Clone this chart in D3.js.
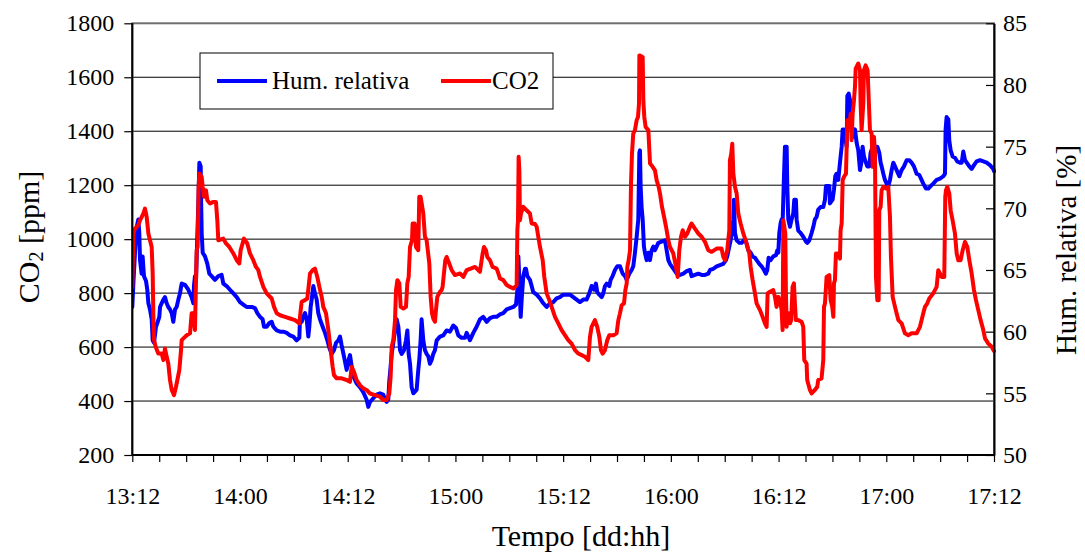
<!DOCTYPE html>
<html><head><meta charset="utf-8">
<script src="https://cdn.jsdelivr.net/npm/d3@7"></script>
<style>
body{margin:0;background:#fff;overflow:hidden}
svg text{font-family:"Liberation Serif","Times New Roman",serif;fill:#000}
</style>
</head><body>
<svg id="chart" width="1085" height="554"></svg>
<script>
// ---------- data ----------
const xTickLabels = ["13:12","14:00","14:12","15:00","15:12","16:00","16:12","17:00","17:12"];
const co2Ticks = [200,400,600,800,1000,1200,1400,1600,1800];
const rhTicks = [50,55,60,65,70,75,80,85];
const seriesNames = ["Hum. relativa","CO2"];

// time in hours since 13:12
const co2Hours = [0,0.12,0.30,0.67,0.86,1.23,1.41,1.60,1.79,2.16,2.27,2.34,2.42,2.60,2.90,3.27,3.46,3.64,3.83,4.01,4.20,4.39,4.65,4.87,5.02,5.24,5.43,5.50,5.87,6.06,6.43,6.61,6.80,6.98,7.10,7.17,7.28,7.39,7.47,7.73,7.84,7.99,8.21,8.36,8.66,9.03,9.32,9.47,9.58,10.14,10.44,10.81,11.26,11.63,11.92,12.07,12.44,12.81,13.11,13.48,13.78,14.04,14.23,14.60,14.97,15.53,15.79,16.09,16.46,17.01,17.57,18.12,18.61,18.76,18.87,19.24,19.50,19.80,20.09,20.35,20.61,20.84,21.10,21.28,21.58,21.84,22.10,22.32,22.47,22.77,23.32,23.88,24.25,24.44,24.70,24.99,25.36,25.73,26.10,26.48,27.03,27.59,27.96,28.34,28.63,28.78,28.90,29.08,29.27,29.38,29.53,29.75,29.90,30.20,30.49,30.64,30.79,30.94,31.16,31.23,31.46,31.60,31.86,31.97,32.12,32.27,32.42,32.60,32.79,33.09,33.24,33.39,33.53,33.72,33.83,33.98,34.28,34.46,34.57,34.72,34.87,35.02,35.31,35.58,35.95,36.51,36.88,37.25,37.70,38.18,38.73,39.03,39.18,39.40,39.55,39.85,40.14,40.59,40.78,40.97,41.33,41.71,42.08,42.45,42.82,42.90,42.97,43.04,43.12,43.19,43.30,43.56,43.93,44.30,44.49,44.86,45.05,45.23,45.42,45.72,45.90,46.16,46.46,46.72,47.09,47.46,47.83,48.20,48.57,48.94,49.32,49.69,50.06,50.43,50.80,50.99,51.17,51.54,51.80,52.03,52.21,52.40,52.66,52.92,53.14,53.59,53.96,54.15,54.33,54.52,54.78,54.93,55.08,55.15,55.30,55.45,55.56,55.67,55.81,56.00,56.19,56.34,56.45,56.49,56.86,56.93,57.04,57.19,57.49,57.68,57.97,58.23,58.42,58.64,58.79,59.01,59.24,59.46,59.72,59.90,60.27,60.57,60.76,60.94,61.13,61.32,61.57,61.83,62.13,62.31,62.68,63.06,63.43,63.80,64.17,64.54,65.10,65.65,65.84,66.02,66.28,66.51,66.58,66.73,66.84,66.96,67.14,67.33,67.51,67.77,68.07,68.44,68.74,68.89,69.11,69.37,69.55,69.93,70.22,70.48,70.67,70.78,71.04,71.41,71.60,71.78,71.97,72.15,72.34,72.45,72.53,72.64,72.75,72.82,72.90,73.01,73.16,73.27,73.41,73.56,73.71,73.82,73.93,74.19,74.56,74.75,74.86,75.12,75.19,75.49,75.68,76.05,76.31,76.42,76.79,76.98,77.06,77.17,77.35,77.65,77.80,77.98,78.10,78.17,78.28,78.39,78.65,78.84,78.91,79.03,79.14,79.29,79.51,79.66,79.88,80.03,80.14,80.25,80.40,80.51,80.59,80.88,81.07,81.14,81.25,81.44,81.51,81.70,81.92,81.99,82.18,82.37,82.48,82.63,82.74,82.85,83.00,83.15,83.22,83.37,83.48,83.67,83.97,84.22,84.41,84.52,84.71,84.97,85.15,85.34,85.71,86.08,86.45,86.82,87.38,87.75,87.93,88.12,88.31,88.57,88.79,89.23,89.61,89.79,89.98,90.16,90.46,90.57,90.65,90.80,91.02,91.17,91.39,91.65,91.84,92.02,92.28,92.51,92.77,93.03,93.25,93.51,93.77,93.99,94.25,94.51,94.81,95.00,95.37,95.74,96.00];
const co2Ppm = [823,1021,1039,1052,1070,1095,1113,1083,1021,971,873,725,626,601,576,576,552,595,564,539,478,441,422,453,478,515,589,626,638,644,651,725,725,663,848,959,971,1194,1243,1231,1194,1157,1181,1144,1132,1138,1138,1070,996,1002,984,971,947,922,910,959,1002,984,947,922,897,885,860,823,799,780,749,725,718,712,706,700,688,737,768,774,780,873,885,891,860,823,786,749,725,663,589,527,496,484,484,478,471,527,508,478,459,447,441,428,422,416,404,404,428,490,601,626,700,811,848,836,749,743,749,836,860,971,996,1058,1058,971,959,1157,1157,1126,1095,1009,996,910,786,725,706,694,737,786,805,811,823,873,922,934,910,885,867,873,860,885,891,897,879,947,971,959,934,922,897,891,873,854,848,830,823,817,830,1033,1070,1305,1255,1070,1095,1120,1107,1095,1058,1056,1046,1009,971,922,860,799,774,749,712,688,663,644,626,613,589,576,570,564,552,638,675,700,675,638,589,576,589,626,644,644,651,700,725,755,762,811,836,897,922,959,1206,1317,1391,1404,1441,1453,1502,1681,1675,1515,1453,1416,1404,1280,1268,1255,1218,1194,1169,1120,1083,1046,996,971,947,897,860,959,1009,1033,1009,1021,1046,1058,1039,1021,1009,990,959,953,965,965,934,922,959,1033,1292,1317,1354,1243,1194,1169,1095,1058,1021,984,947,897,848,799,762,737,712,688,675,799,805,811,786,749,786,774,737,663,1070,1046,1021,799,675,725,725,688,700,823,836,762,700,700,694,675,552,539,478,441,428,441,453,478,484,552,749,762,860,867,774,749,712,836,848,947,947,928,1033,1058,1218,1231,1243,1441,1416,1465,1367,1465,1515,1564,1632,1651,1626,1502,1404,1502,1626,1644,1626,1564,1404,1391,1268,1379,1317,860,774,774,1107,1120,1181,1194,1188,1194,1083,934,786,749,725,700,688,651,644,651,651,675,700,725,749,762,780,799,823,885,873,860,860,1157,1181,1194,1169,1107,1070,1021,947,922,922,959,990,971,922,873,811,774,737,700,663,632,613,601,585];

const rhHours = [0,0.12,0.30,0.49,0.67,0.78,0.86,1.04,1.15,1.30,1.53,1.67,1.79,1.97,2.16,2.27,2.42,2.64,2.79,3.01,3.09,3.27,3.46,3.64,3.83,4.01,4.20,4.39,4.57,4.76,4.94,5.13,5.31,5.50,5.87,6.24,6.61,6.80,6.87,6.98,7.10,7.24,7.36,7.47,7.62,7.65,7.73,7.84,8.10,8.36,8.58,8.84,9.21,9.58,9.95,10.14,10.51,10.88,11.26,11.63,12.00,12.37,12.74,13.30,13.67,13.93,14.23,14.52,14.67,14.97,15.27,15.53,15.71,16.09,16.46,16.83,17.20,17.57,17.94,18.31,18.61,18.68,18.87,19.05,19.24,19.43,19.61,19.72,19.87,20.02,20.17,20.35,20.54,20.72,20.91,21.21,21.47,21.73,21.95,22.21,22.47,22.70,22.95,23.14,23.32,23.58,23.88,24.10,24.25,24.44,24.62,24.99,25.36,25.73,26.10,26.29,26.48,26.85,27.22,27.59,27.96,28.15,28.34,28.52,28.63,28.71,28.90,29.08,29.27,29.45,29.64,29.83,30.01,30.27,30.49,30.64,30.79,30.94,31.12,31.31,31.68,31.86,31.97,32.12,32.23,32.42,32.60,32.79,32.98,33.16,33.35,33.53,33.72,33.91,34.28,34.65,35.02,35.39,35.76,36.06,36.32,36.69,37.06,37.25,37.62,37.80,37.99,38.36,38.73,39.10,39.48,39.85,40.22,40.59,40.96,41.33,41.71,42.08,42.45,42.75,42.90,43.01,43.12,43.27,43.38,43.56,43.75,43.86,44.01,44.30,44.49,44.67,45.05,45.42,45.79,46.16,46.53,46.90,47.27,47.64,48.01,48.39,48.76,49.13,49.50,49.87,50.24,50.61,50.91,51.17,51.43,51.65,51.80,52.03,52.29,52.47,52.66,52.85,53.14,53.29,53.51,53.77,54.03,54.33,54.63,54.89,55.08,55.37,55.63,55.81,56.00,56.19,56.37,56.49,56.56,56.63,56.74,56.86,57.00,57.11,57.30,57.49,57.67,57.86,58.05,58.23,58.60,58.97,59.35,59.53,59.72,59.90,60.27,60.65,61.02,61.39,61.76,62.13,62.31,62.68,63.06,63.43,63.80,64.17,64.36,64.73,65.10,65.47,65.84,66.14,66.28,66.51,66.66,66.77,66.88,66.96,67.03,67.14,67.33,67.63,67.88,68.14,68.37,68.63,68.89,69.11,69.37,69.55,69.85,70.11,70.37,70.59,70.74,70.89,71.11,71.41,71.71,71.86,71.97,72.08,72.23,72.34,72.45,72.60,72.71,72.90,72.97,73.08,73.27,73.45,73.64,73.75,73.93,74.01,74.19,74.45,74.75,75.05,75.19,75.42,75.68,75.87,76.05,76.24,76.42,76.68,76.98,77.17,77.28,77.43,77.65,77.72,78.02,78.17,78.32,78.46,78.65,78.84,79.03,79.14,79.29,79.40,79.58,79.66,79.81,79.95,80.10,80.25,80.33,80.51,80.70,80.88,81.07,81.22,81.36,81.51,81.73,81.88,82.11,82.25,82.48,82.63,82.74,83.00,83.22,83.37,83.48,83.67,83.85,84.04,84.22,84.41,84.60,84.78,84.97,85.15,85.45,85.71,85.97,86.27,86.56,86.82,87.08,87.38,87.68,87.93,88.12,88.42,88.68,88.94,89.23,89.61,89.98,90.35,90.54,90.61,90.72,90.91,91.02,91.17,91.39,91.65,91.91,92.21,92.40,92.58,92.77,92.96,93.25,93.51,93.77,94.07,94.44,94.81,95.18,95.55,95.92,96.00];
const rhPct = [62.0,63.9,66.4,68.5,69.1,68.0,65.8,64.7,66.1,64.5,64.1,63.4,62.3,61.8,61.0,59.3,59.1,60.4,60.7,61.2,62.0,62.3,62.6,62.8,62.3,62.0,61.8,61.5,60.8,61.8,62.0,62.6,63.1,63.9,63.8,63.4,62.8,62.3,63.7,64.5,64.2,67.7,70.4,73.7,73.4,71.2,68.0,66.4,66.1,65.5,64.7,64.5,64.2,64.5,64.6,63.9,63.7,63.4,63.1,62.8,62.4,62.2,62.0,62.0,61.9,61.5,61.2,61.0,60.4,60.4,60.7,60.8,60.4,60.1,60.0,60.0,59.9,59.7,59.6,59.3,59.5,61.0,60.8,61.2,61.5,61.0,59.6,60.4,62.0,62.8,63.7,63.1,62.6,61.5,61.0,60.4,59.9,59.3,58.7,58.2,58.5,59.1,59.3,59.6,58.9,58.0,56.9,57.7,58.1,57.2,56.4,55.8,55.5,55.1,54.5,53.9,54.3,54.6,54.9,55.0,54.9,54.5,54.3,54.5,56.0,56.6,58.2,59.1,60.1,61.0,60.4,58.5,58.2,58.5,59.3,60.1,58.2,57.4,55.5,55.0,55.3,56.9,57.7,59.3,61.0,59.3,58.5,58.2,58.0,57.4,57.7,58.2,58.5,59.3,59.6,59.7,60.1,60.0,60.5,60.3,59.7,59.5,59.5,59.9,59.3,59.6,59.9,60.4,61.0,61.2,60.8,61.1,61.2,61.2,61.4,61.5,61.8,61.9,62.0,62.2,63.4,66.1,64.2,61.2,62.6,64.5,65.1,65.1,64.5,64.2,63.7,63.2,63.0,62.7,62.3,62.0,62.3,62.4,62.7,62.8,63.0,63.0,63.0,62.8,62.6,62.4,62.6,62.6,63.1,63.7,63.4,63.9,63.2,63.0,62.8,63.1,63.7,63.9,63.7,64.2,64.5,65.0,65.3,65.3,64.7,64.5,64.2,64.7,65.0,65.3,66.4,67.7,69.1,74.5,74.7,71.8,70.1,69.1,66.9,66.4,65.8,66.4,65.8,66.6,66.9,66.6,67.2,67.3,67.4,66.6,65.8,65.5,65.1,64.7,64.6,64.7,64.9,65.0,64.5,64.6,64.7,64.6,64.6,64.7,65.0,65.1,65.3,65.4,65.5,65.8,66.1,66.9,67.4,68.0,68.5,69.1,70.7,68.0,67.4,67.2,67.2,67.4,67.3,66.6,66.4,66.1,66.0,65.8,65.5,65.3,65.0,64.7,65.0,66.0,65.8,66.1,66.2,66.6,66.4,68.0,68.8,69.1,68.8,72.6,75.0,75.0,71.8,69.1,68.5,69.1,69.6,70.7,70.7,69.1,68.2,68.0,67.7,67.3,67.2,67.4,68.0,68.5,69.1,69.3,69.9,70.1,70.1,70.7,71.8,71.8,71.8,70.4,70.7,71.5,72.6,72.8,72.3,73.7,75.0,76.4,76.4,75.8,75.0,79.1,79.3,78.8,77.2,76.1,75.8,76.4,75.3,74.7,73.1,73.7,75.0,74.2,73.7,73.4,73.4,74.5,75.0,73.9,75.0,75.0,74.5,73.7,73.4,72.8,72.3,72.0,71.8,72.3,73.1,73.7,73.4,73.1,72.6,73.1,73.4,73.9,73.9,73.7,73.4,72.8,72.7,72.3,72.0,71.6,71.6,71.8,72.0,72.3,72.4,72.6,72.8,76.4,77.4,77.2,75.5,74.7,74.2,74.1,73.8,73.7,73.7,74.6,73.9,73.7,73.4,73.2,73.5,73.8,73.9,73.8,73.7,73.5,73.2,73.0];

// ---------- layout ----------
const FONT = "'Liberation Serif','Times New Roman',serif";
const L = 132.3, R = 994, T = 23.3, B = 455;
const svg = d3.select("#chart");
const x = d3.scaleLinear().domain([0, 96]).range([L, R]);
const yL = d3.scaleLinear().domain([200, 1800]).range([B, T]);
const yR = d3.scaleLinear().domain([50, 85]).range([B, T]);

// gridlines
svg.append("g").selectAll("line").data(co2Ticks.filter(d => d > 200 && d < 1800)).join("line")
  .attr("x1", L).attr("x2", R).attr("y1", d => yL(d)).attr("y2", d => yL(d))
  .attr("stroke", "#000").attr("stroke-width", 1);

// plot border
svg.append("rect").attr("x", L).attr("y", T).attr("width", R - L).attr("height", B - T)
  .attr("fill", "none").attr("stroke", "#6e6e6e").attr("stroke-width", 2);

// lines
svg.append("clipPath").attr("id", "pc").append("rect")
  .attr("x", L).attr("y", T - 5).attr("width", R - L + 2).attr("height", B - T + 10);
const rhData = rhHours.map((h, i) => [h, rhPct[i]]);
const co2Data = co2Hours.map((h, i) => [h, co2Ppm[i]]);
const lineR = d3.line().x(d => x(d[0])).y(d => yR(d[1]));
const lineL = d3.line().x(d => x(d[0])).y(d => yL(d[1]));
const gLines = svg.append("g").attr("clip-path", "url(#pc)");
gLines.append("path").attr("d", lineR(rhData)).attr("fill", "none")
  .attr("stroke", "#0000ff").attr("stroke-width", 4).attr("stroke-linejoin", "round").attr("stroke-linecap", "round");
gLines.append("path").attr("d", lineL(co2Data)).attr("fill", "none")
  .attr("stroke", "#ff0000").attr("stroke-width", 4).attr("stroke-linejoin", "round").attr("stroke-linecap", "round");

// axes
const axL = svg.append("g").attr("transform", `translate(${L},0)`)
  .call(d3.axisLeft(yL).tickValues(co2Ticks).tickSize(8).tickPadding(10).tickFormat(d3.format("d")));
const axR = svg.append("g").attr("transform", `translate(${R},0)`)
  .call(d3.axisRight(yR).tickValues(rhTicks).tickSizeInner(-8).tickSizeOuter(0).tickPadding(9));
const axB = svg.append("g").attr("transform", `translate(0,${B})`)
  .call(d3.axisBottom(x).tickValues(d3.range(0, 97, 3)).tickSize(7).tickPadding(25)
    .tickFormat(d => d % 12 === 0 ? xTickLabels[d / 12] : ""));
[axL, axR, axB].forEach(g => {
  g.attr("font-family", null).attr("font-size", null);
  g.select(".domain").attr("stroke", "#000").attr("stroke-width", 2);
  g.selectAll(".tick line").attr("stroke", "#000").attr("stroke-width", 1.2);
  g.selectAll("text").style("font-family", FONT).style("font-size", "24px").attr("fill", "#000");
});
axL.select(".domain").attr("d", `M0,${B}V${T}`);
axB.select(".domain").attr("d", `M${L},0H${R}`);

// axis titles
const tl = svg.append("text").attr("transform", "translate(39,237) rotate(-90)")
  .attr("text-anchor", "middle").style("font-family", FONT).style("font-size", "30px");
tl.append("tspan").text("CO");
tl.append("tspan").text("2").style("font-size", "20px").attr("dy", 4);
tl.append("tspan").text(" [ppm]").attr("dy", -4);

svg.append("text").attr("transform", "translate(1076,250) rotate(-90)")
  .attr("text-anchor", "middle").style("font-family", FONT).style("font-size", "29px").text("Hum. relativa [%]");

svg.append("text").attr("x", 581).attr("y", 546).attr("text-anchor", "middle")
  .style("font-family", FONT).style("font-size", "30px").text("Tempo [dd:hh]");

// legend
const lg = svg.append("g");
lg.append("rect").attr("x", 200).attr("y", 53).attr("width", 353).attr("height", 56)
  .attr("fill", "#fff").attr("stroke", "#000").attr("stroke-width", 1);
const legItems = [
  {name: seriesNames[0], color: "#0000ff", x0: 217, tx: 272},
  {name: seriesNames[1], color: "#ff0000", x0: 441, tx: 492}
];
legItems.forEach(it => {
  lg.append("line").attr("x1", it.x0).attr("x2", it.x0 + 50).attr("y1", 81).attr("y2", 81)
    .attr("stroke", it.color).attr("stroke-width", 4);
  lg.append("text").attr("x", it.tx).attr("y", 89).style("font-family", FONT).style("font-size", "25px").text(it.name);
});
</script>
</body></html>
